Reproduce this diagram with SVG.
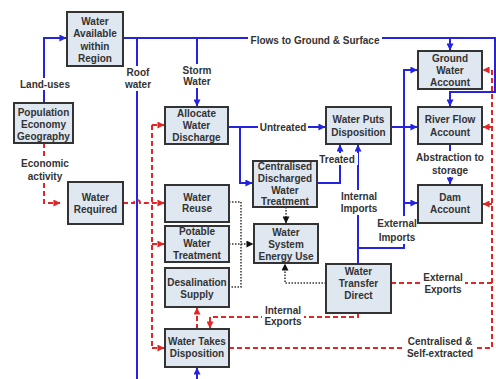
<svg xmlns="http://www.w3.org/2000/svg" width="496" height="379" viewBox="0 0 496 379">
<style>
.box{fill:#dfe7f1;stroke:#333;stroke-width:2}
text{font-family:"Liberation Sans",Arial,sans-serif;font-weight:bold;font-size:10px;fill:#333;text-anchor:middle}
.b{fill:none;stroke:#2323e0;stroke-width:2}
.r{fill:none;stroke:#e02626;stroke-width:2;stroke-dasharray:5,3}
.k{fill:none;stroke:#333;stroke-width:1.5;stroke-dasharray:1.5,1.5}
.lb{fill:#fff}
</style>
<defs>
<marker id="ab" viewBox="0 0 8 8" refX="7.5" refY="4" markerWidth="7" markerHeight="7" markerUnits="userSpaceOnUse" orient="auto"><path d="M0,0L8,4L0,8z" fill="#2323e0"/></marker>
<marker id="ar" viewBox="0 0 8 8" refX="7.5" refY="4" markerWidth="7" markerHeight="7" markerUnits="userSpaceOnUse" orient="auto"><path d="M0,0L8,4L0,8z" fill="#e02626"/></marker>
<marker id="ak" viewBox="0 0 8 8" refX="7.5" refY="4" markerWidth="7" markerHeight="7" markerUnits="userSpaceOnUse" orient="auto"><path d="M0,0L8,4L0,8z" fill="#111"/></marker>
</defs>
<rect width="496" height="379" fill="#fff"/>
<g id="connectors">
<path class="b" d="M44,103V38H66" marker-end="url(#ab)"/>
<path class="b" d="M123,38H495V92H450V106" marker-end="url(#ab)"/>
<path class="b" d="M137,38V379"/>
<path class="b" d="M197,38V106" marker-end="url(#ab)"/>
<path class="b" d="M450,38V50" marker-end="url(#ab)"/>
<path class="b" d="M228,127H325" marker-end="url(#ab)"/>
<path class="b" d="M240,127V183H252" marker-end="url(#ab)"/>
<path class="b" d="M317,183H340V145" marker-end="url(#ab)"/>
<path class="b" d="M391,127H417" marker-end="url(#ab)"/>
<path class="b" d="M358,264V248H404V70H417" marker-end="url(#ab)"/>
<path class="b" d="M404,203H417" marker-end="url(#ab)"/>
<path class="b" d="M358,248V145" marker-end="url(#ab)"/>
<path class="b" d="M450,144V184" marker-end="url(#ab)"/>
<path class="b" d="M197,379V368" marker-end="url(#ab)"/>
<path class="r" d="M44,143V203H60" marker-end="url(#ar)"/>
<path class="r" d="M123,203H134A3,3 0 0 1 140,203H164" marker-end="url(#ar)"/>
<path class="r" d="M152,125V348"/>
<path class="r" d="M152,125H164" marker-end="url(#ar)"/>
<path class="r" d="M152,244H164" marker-end="url(#ar)"/>
<path class="r" d="M152,348H164" marker-end="url(#ar)"/>
<path class="r" d="M197,329V308" marker-end="url(#ar)"/>
<path class="r" d="M358,313V317H210V328" marker-end="url(#ar)"/>
<path class="r" d="M229,348H492V70H483" marker-end="url(#ar)"/>
<path class="r" d="M492,127H483" marker-end="url(#ar)"/>
<path class="r" d="M492,204H483" marker-end="url(#ar)"/>
<path class="r" d="M391,283H492"/>
<path class="k" d="M286,207V223" marker-end="url(#ak)"/>
<path class="k" d="M229,202H241V287H229"/>
<path class="k" d="M229,244H253" marker-end="url(#ak)"/>
<path class="k" d="M326,283H285V264" marker-end="url(#ak)"/>
<rect class="lb" x="19" y="78" width="52" height="12"/>
<text x="45" y="88">Land-uses</text>
<rect class="lb" x="18" y="157" width="56" height="25"/>
<text x="45" y="167">Economic</text>
<text x="45" y="180">activity</text>
<rect class="lb" x="120" y="66" width="36" height="25"/>
<text x="138" y="76">Roof</text>
<text x="138" y="88">water</text>
<rect class="lb" x="178" y="64" width="38" height="24"/>
<text x="197" y="74">Storm</text>
<text x="197" y="85">Water</text>
<rect class="lb" x="248" y="33" width="134" height="12"/>
<text x="315" y="44">Flows to Ground &amp; Surface</text>
<rect class="lb" x="258" y="121" width="50" height="12"/>
<text x="283" y="131">Untreated</text>
<rect class="lb" x="317" y="153" width="41" height="12"/>
<text x="337" y="163">Treated</text>
<rect class="lb" x="339" y="190" width="40" height="25"/>
<text x="359" y="200">Internal</text>
<text x="359" y="212">Imports</text>
<rect class="lb" x="376" y="216" width="43" height="28"/>
<text x="397" y="227">External</text>
<text x="397" y="241">Imports</text>
<rect class="lb" x="415" y="151" width="71" height="26"/>
<text x="450" y="161">Abstraction to</text>
<text x="450" y="174">storage</text>
<rect class="lb" x="421" y="271" width="44" height="25"/>
<text x="443" y="281">External</text>
<text x="443" y="293">Exports</text>
<rect class="lb" x="262" y="304" width="42" height="24"/>
<text x="283" y="314">Internal</text>
<text x="283" y="325">Exports</text>
<rect class="lb" x="405" y="335" width="70" height="25"/>
<text x="440" y="345">Centralised &amp;</text>
<text x="440" y="357">Self-extracted</text>
</g>
<g id="water-available"><rect class="box" x="67" y="12" width="56" height="54"/><text x="95" y="25">Water</text><text x="95" y="37">Available</text><text x="95" y="50">within</text><text x="95" y="62">Region</text></g>
<g id="population"><rect class="box" x="14" y="103" width="59" height="40"/><text x="43.5" y="116">Population</text><text x="43.5" y="128">Economy</text><text x="43.5" y="140">Geography</text></g>
<g id="water-required"><rect class="box" x="68" y="182" width="55" height="42"/><text x="95.5" y="201">Water</text><text x="95.5" y="213">Required</text></g>
<g id="allocate"><rect class="box" x="165" y="107" width="63" height="37"/><text x="196.5" y="117">Allocate</text><text x="196.5" y="129">Water</text><text x="196.5" y="141">Discharge</text></g>
<g id="water-puts"><rect class="box" x="326" y="107" width="65" height="37"/><text x="358.5" y="123">Water Puts</text><text x="358.5" y="136">Disposition</text></g>
<g id="ground-water"><rect class="box" x="418" y="51" width="64" height="38"/><text x="450" y="62">Ground</text><text x="450" y="74">Water</text><text x="450" y="86">Account</text></g>
<g id="river-flow"><rect class="box" x="418" y="107" width="64" height="37"/><text x="450" y="123">River Flow</text><text x="450" y="136">Account</text></g>
<g id="dam"><rect class="box" x="418" y="185" width="64" height="38"/><text x="450" y="201">Dam</text><text x="450" y="213">Account</text></g>
<g id="centralised"><rect class="box" x="253" y="161" width="64" height="46"/><text x="285" y="170">Centralised</text><text x="285" y="182">Discharged</text><text x="285" y="194">Water</text><text x="285" y="205">Treatment</text></g>
<g id="water-reuse"><rect class="box" x="165" y="185" width="64" height="37"/><text x="197" y="201">Water</text><text x="197" y="212">Reuse</text></g>
<g id="potable"><rect class="box" x="165" y="226" width="64" height="36"/><text x="197" y="235">Potable</text><text x="197" y="247">Water</text><text x="197" y="259">Treatment</text></g>
<g id="energy-use"><rect class="box" x="254" y="224" width="64" height="39"/><text x="286" y="236">Water</text><text x="286" y="248">System</text><text x="286" y="260">Energy Use</text></g>
<g id="desalination"><rect class="box" x="165" y="268" width="64" height="39"/><text x="197" y="286">Desalination</text><text x="197" y="298">Supply</text></g>
<g id="water-transfer"><rect class="box" x="326" y="264" width="65" height="49"/><text x="358.5" y="275">Water</text><text x="358.5" y="287">Transfer</text><text x="358.5" y="299">Direct</text></g>
<g id="water-takes"><rect class="box" x="165" y="329" width="64" height="38"/><text x="197" y="345">Water Takes</text><text x="197" y="357">Disposition</text></g>
</svg>
